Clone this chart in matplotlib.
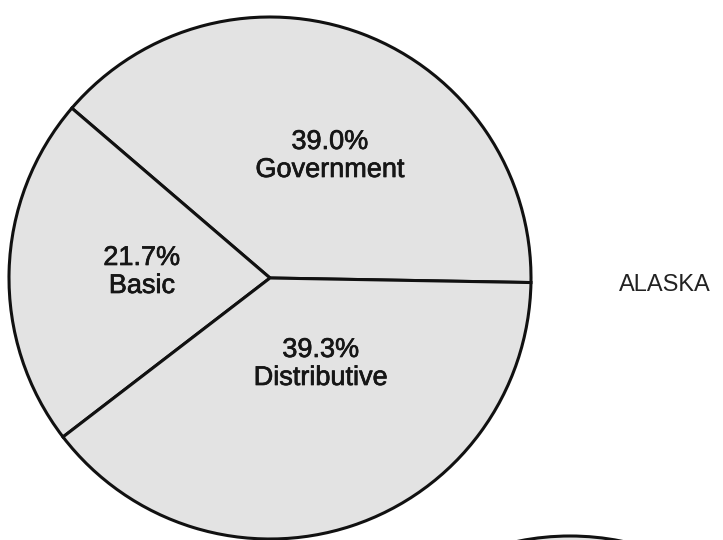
import matplotlib
matplotlib.use("Agg")
import matplotlib.pyplot as plt
import matplotlib.patheffects as pe
from matplotlib.patches import Circle

categories = ["Government", "Basic", "Distributive"]
shares = [39.0, 21.7, 39.3]
region = "ALASKA"

plt.rcParams['font.family'] = ['Liberation Sans', 'DejaVu Sans']

W, H = 723, 540
fig = plt.figure(figsize=(W / 100, H / 100), dpi=100)
fig.patch.set_facecolor('white')
ax = fig.add_axes([0, 0, 1, 1])

fill = '#e3e3e3'
cx, cy, r = 270, H - 278, 261
ax.pie(shares, center=(cx, cy), radius=r, startangle=-1.0, counterclock=True,
       colors=[fill] * len(shares),
       wedgeprops=dict(edgecolor='#111111', linewidth=2.2))

ink = '#161616'
# label positions (image pixel coords)
label_pos = [(330, 156), (142, 272), (321, 364)]
for c, v, (x, y) in zip(categories, shares, label_pos):
    ax.text(x, H - y, f"{v:.1f}%\n{c}", ha='center', va='center',
            fontsize=19.5, color=ink, linespacing=1.1,
            path_effects=[pe.withStroke(linewidth=0.5, foreground=ink)])

ax.text(665, H - 285, region, ha='center', va='center', fontsize=17,
        color='#222222')

# partial arc of the next pie below
ax.add_patch(Circle((570, H - 796), 260, facecolor=fill, edgecolor='#111111',
                    linewidth=2.2))

ax.set_xlim(0, W)
ax.set_ylim(0, H)
ax.set_aspect('equal')
ax.axis('off')
fig.savefig('out.png', dpi=100, facecolor='white')
